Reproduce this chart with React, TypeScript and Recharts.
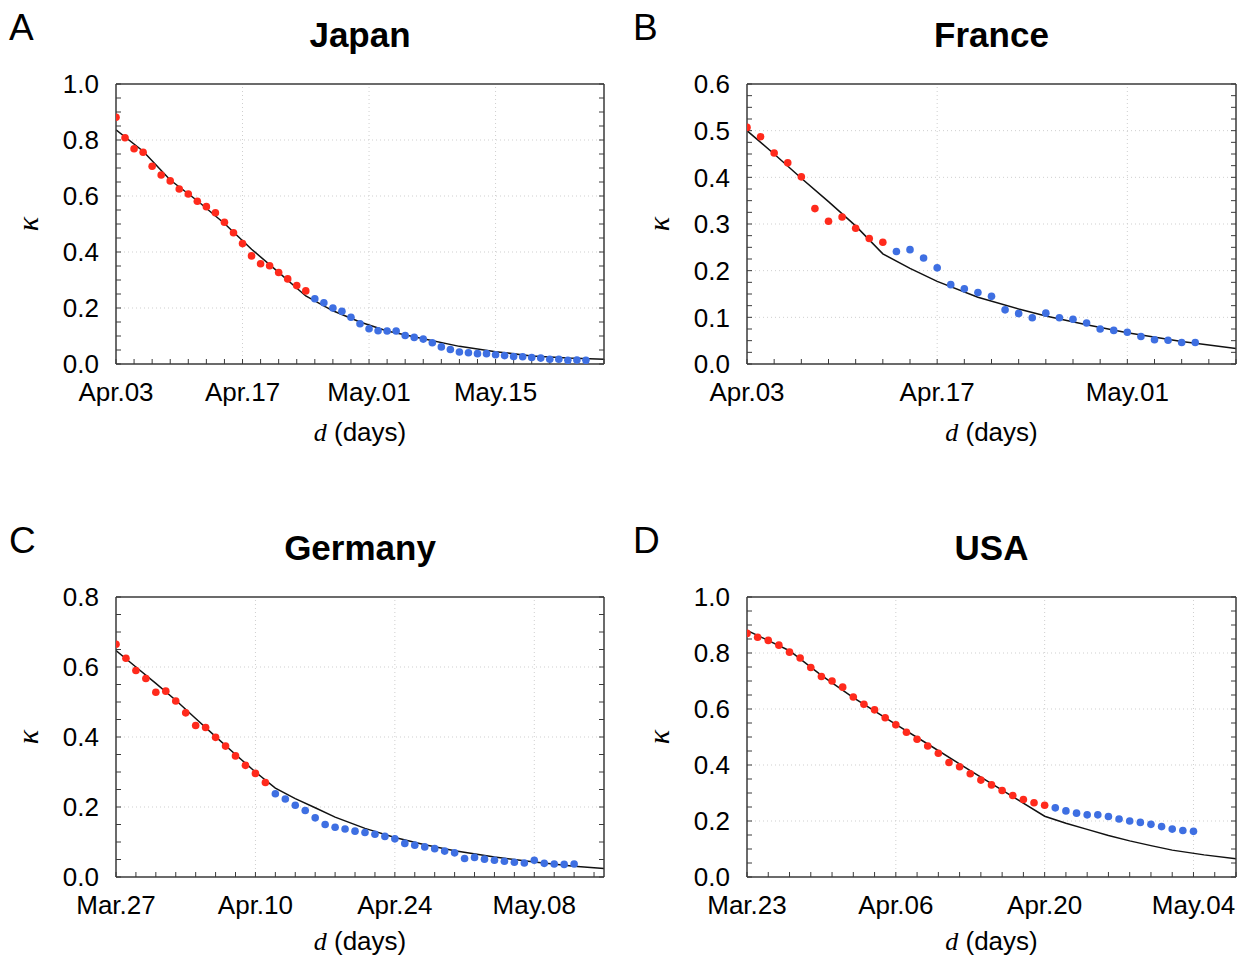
import { ComposedChart, Scatter, Line, XAxis, YAxis, ReferenceLine } from "recharts";

// ---- Japan (days from Apr.03) ----
const japanRed = [0.881, 0.808, 0.769, 0.756, 0.706, 0.675, 0.654, 0.625, 0.607, 0.581, 0.562, 0.54, 0.506, 0.469, 0.43, 0.386, 0.358, 0.351, 0.327, 0.304, 0.28, 0.261];
const japanBlue = [0.233, 0.219, 0.2, 0.188, 0.167, 0.144, 0.126, 0.119, 0.118, 0.118, 0.102, 0.095, 0.089, 0.076, 0.061, 0.052, 0.043, 0.04, 0.037, 0.037, 0.033, 0.03, 0.027, 0.026, 0.023, 0.021, 0.017, 0.017, 0.013, 0.014, 0.013];
const japanFitDays = [0, 3, 6, 9, 12, 15, 18, 21, 24, 27, 30, 34, 38, 42, 46, 50, 54];
const japanFit = [0.836, 0.76, 0.657, 0.583, 0.502, 0.41, 0.327, 0.243, 0.19, 0.15, 0.118, 0.09, 0.063, 0.044, 0.029, 0.021, 0.017];
const japanTickDays = [0, 14, 28, 42];
const japanTickLabels = ["Apr.03", "Apr.17", "May.01", "May.15"];

// ---- France (days from Apr.03) ----
const franceRed = [0.507, 0.487, 0.452, 0.431, 0.401, 0.333, 0.306, 0.315, 0.291, 0.269, 0.261];
const franceBlue = [0.241, 0.245, 0.227, 0.206, 0.17, 0.161, 0.153, 0.145, 0.116, 0.108, 0.099, 0.109, 0.099, 0.096, 0.088, 0.075, 0.072, 0.068, 0.059, 0.052, 0.051, 0.046, 0.046];
const franceFitDays = [0, 2, 4, 6, 8, 10, 12, 14, 17, 20, 22, 25, 28, 32, 36];
const franceFit = [0.5, 0.45, 0.398, 0.348, 0.296, 0.236, 0.205, 0.177, 0.143, 0.118, 0.103, 0.084, 0.067, 0.048, 0.033];
const franceTickDays = [0, 14, 28];
const franceTickLabels = ["Apr.03", "Apr.17", "May.01"];

// ---- Germany (days from Mar.27) ----
const germanyRed = [0.665, 0.625, 0.59, 0.567, 0.528, 0.531, 0.503, 0.469, 0.433, 0.427, 0.399, 0.374, 0.346, 0.319, 0.296, 0.27];
const germanyBlue = [0.238, 0.223, 0.205, 0.19, 0.169, 0.15, 0.142, 0.137, 0.131, 0.127, 0.122, 0.116, 0.109, 0.096, 0.091, 0.086, 0.081, 0.074, 0.069, 0.053, 0.056, 0.051, 0.048, 0.045, 0.042, 0.04, 0.048, 0.039, 0.037, 0.036, 0.037];
const germanyFitDays = [0, 2, 4, 6, 8, 10, 12, 14, 16, 18, 20, 22, 25, 28, 31, 34, 38, 42, 46, 49];
const germanyFit = [0.647, 0.6, 0.553, 0.505, 0.453, 0.401, 0.35, 0.3, 0.254, 0.224, 0.198, 0.171, 0.139, 0.113, 0.092, 0.075, 0.057, 0.043, 0.031, 0.024];
const germanyTickDays = [0, 14, 28, 42];
const germanyTickLabels = ["Mar.27", "Apr.10", "Apr.24", "May.08"];

// ---- USA (days from Mar.23) ----
const usaRed = [0.87, 0.856, 0.845, 0.828, 0.803, 0.782, 0.748, 0.716, 0.7, 0.678, 0.643, 0.617, 0.597, 0.569, 0.544, 0.517, 0.492, 0.468, 0.442, 0.409, 0.394, 0.369, 0.346, 0.329, 0.309, 0.291, 0.277, 0.265, 0.256];
const usaBlue = [0.247, 0.236, 0.228, 0.222, 0.222, 0.216, 0.207, 0.2, 0.195, 0.188, 0.18, 0.171, 0.166, 0.163];
const usaFitDays = [0, 4, 7, 10, 14, 17, 21, 24, 28, 30, 32, 34, 36, 38, 40, 43, 46];
const usaFit = [0.881, 0.808, 0.72, 0.641, 0.545, 0.475, 0.38, 0.31, 0.217, 0.192, 0.17, 0.148, 0.129, 0.112, 0.096, 0.079, 0.065];
const usaTickDays = [0, 14, 28, 42];
const usaTickLabels = ["Mar.23", "Apr.06", "Apr.20", "May.04"];

const RED = "#ff2a1c";
const BLUE = "#3e6fe2";
const FRAME = "#3a3a3a";
const GRID = "#cfcfcf";
const SANS = '"Liberation Sans", Arial, Helvetica, sans-serif';
const SERIF = '"Liberation Serif", "Times New Roman", serif';

type Pt = { day: number; k: number };

const toPoints = (vals: number[], start = 0): Pt[] => vals.map((k, i) => ({ day: start + i, k }));
const zipFit = (days: number[], vals: number[]): Pt[] => days.map((day, i) => ({ day, k: vals[i] }));

function steps(max: number, step: number) {
  const out: number[] = [];
  for (let i = 0; i * step <= max + 1e-9; i++) out.push(+(i * step).toFixed(4));
  return out;
}

interface PanelProps {
  left: number;
  top: number;
  width: number;
  rightMargin: number;
  xMax: number;
  yMax: number;
  yStep: number;
  yMinor: number;
  tickDays: number[];
  tickLabels: string[];
  red: Pt[];
  blue: Pt[];
  fit: Pt[];
}

const dot = (color: string) => (props: any) => <circle cx={props.cx} cy={props.cy} r={3.8} fill={color} />;

function Panel(p: PanelProps) {
  const xMinor = steps(p.xMax, 2);
  const yMinor = steps(p.yMax, p.yMinor);
  const yMajor = steps(p.yMax, p.yStep);
  const isMajorY = (v: number) => yMajor.some((m) => Math.abs(m - v) < 1e-6);
  const xLabel = (v: number) => {
    const i = p.tickDays.indexOf(v);
    return i >= 0 ? p.tickLabels[i] : "";
  };
  const tickFont = { fill: "#000", fontSize: 26, fontFamily: SANS };
  const frame = { stroke: FRAME, strokeWidth: 1.5 };

  return (
    <div style={{ position: "absolute", left: p.left, top: p.top }}>
      <ComposedChart width={p.width} height={440} margin={{ top: 83, right: p.rightMargin - 1, bottom: 0, left: 0 }}>
        <XAxis
          dataKey="day"
          type="number"
          domain={[0, p.xMax]}
          allowDataOverflow
          ticks={xMinor}
          interval={0}
          tickFormatter={xLabel}
          tickSize={-5}
          tickMargin={24}
          height={76}
          axisLine={frame}
          tickLine={{ stroke: FRAME }}
          tick={tickFont}
        />
        <XAxis
          xAxisId="top"
          orientation="top"
          type="number"
          domain={[0, p.xMax]}
          allowDataOverflow
          ticks={xMinor}
          interval={0}
          tickFormatter={() => ""}
          tickSize={-5}
          height={1}
          axisLine={frame}
          tickLine={{ stroke: FRAME }}
        />
        <YAxis
          dataKey="k"
          type="number"
          domain={[0, p.yMax]}
          allowDataOverflow
          ticks={yMinor}
          interval={0}
          tickFormatter={(v: number) => (isMajorY(v) ? v.toFixed(1) : "")}
          tickSize={-5}
          tickMargin={22}
          width={116}
          axisLine={frame}
          tickLine={{ stroke: FRAME }}
          tick={tickFont}
        />
        <YAxis
          yAxisId="right"
          orientation="right"
          type="number"
          domain={[0, p.yMax]}
          allowDataOverflow
          ticks={yMinor}
          interval={0}
          tickFormatter={() => ""}
          tickSize={-5}
          width={1}
          axisLine={frame}
          tickLine={{ stroke: FRAME }}
        />
        {p.tickDays
          .filter((d) => d > 0 && d < p.xMax)
          .map((d) => (
            <ReferenceLine key={"x" + d} x={d} stroke={GRID} strokeDasharray="1 3" />
          ))}
        {yMajor
          .filter((v) => v > 0 && v < p.yMax - 1e-6)
          .map((v) => (
            <ReferenceLine key={"y" + v} y={v} stroke={GRID} strokeDasharray="1 3" />
          ))}
        <Scatter data={p.red} dataKey="k" shape={dot(RED)} isAnimationActive={false} />
        <Scatter data={p.blue} dataKey="k" shape={dot(BLUE)} isAnimationActive={false} />
        <Line data={p.fit} dataKey="k" type="linear" stroke="#111" strokeWidth={1.5} dot={false} activeDot={false} isAnimationActive={false} />
      </ComposedChart>
    </div>
  );
}

const panels: (PanelProps & { letter: string; title: string; letterX: number; xTitleY: number })[] = [
  {
    letter: "A", title: "Japan", letterX: 9, xTitleY: 441, left: 0, top: 0, width: 620, rightMargin: 16,
    xMax: 54, yMax: 1, yStep: 0.2, yMinor: 0.05,
    tickDays: japanTickDays, tickLabels: japanTickLabels,
    red: toPoints(japanRed), blue: toPoints(japanBlue, japanRed.length), fit: zipFit(japanFitDays, japanFit),
  },
  {
    letter: "B", title: "France", letterX: 633, xTitleY: 441, left: 631, top: 0, width: 609, rightMargin: 4,
    xMax: 36, yMax: 0.6, yStep: 0.1, yMinor: 0.025,
    tickDays: franceTickDays, tickLabels: franceTickLabels,
    red: toPoints(franceRed), blue: toPoints(franceBlue, franceRed.length), fit: zipFit(franceFitDays, franceFit),
  },
  {
    letter: "C", title: "Germany", letterX: 9, xTitleY: 437, left: 0, top: 513, width: 620, rightMargin: 16,
    xMax: 49, yMax: 0.8, yStep: 0.2, yMinor: 0.05,
    tickDays: germanyTickDays, tickLabels: germanyTickLabels,
    red: toPoints(germanyRed), blue: toPoints(germanyBlue, germanyRed.length), fit: zipFit(germanyFitDays, germanyFit),
  },
  {
    letter: "D", title: "USA", letterX: 633, xTitleY: 437, left: 631, top: 513, width: 609, rightMargin: 4,
    xMax: 46, yMax: 1, yStep: 0.2, yMinor: 0.05,
    tickDays: usaTickDays, tickLabels: usaTickLabels,
    red: toPoints(usaRed), blue: toPoints(usaBlue, usaRed.length), fit: zipFit(usaFitDays, usaFit),
  },
];

export default function App() {
  return (
    <div style={{ position: "absolute", left: 0, top: 0, width: 1240, height: 958, background: "#fff", overflow: "hidden" }}>
      {panels.map((p) => (
        <Panel key={p.letter} {...p} />
      ))}
      <svg width={1240} height={958} style={{ position: "absolute", left: 0, top: 0, pointerEvents: "none" }}>
        {panels.map((p) => {
          const plotLeft = p.left + 116;
          const plotRight = p.left + p.width - p.rightMargin;
          const cx = (plotLeft + plotRight) / 2;
          return (
            <g key={p.letter} fontFamily={SANS} fill="#000">
              <text x={p.letterX} y={p.top + 40} fontSize={37}>{p.letter}</text>
              <text x={cx} y={p.top + 47} fontSize={35} fontWeight="bold" textAnchor="middle">{p.title}</text>
              <text x={cx} y={p.top + p.xTitleY} fontSize={26} textAnchor="middle">
                <tspan fontFamily={SERIF} fontStyle="italic">d</tspan> (days)
              </text>
              <text transform={`translate(${p.left + 38}, ${p.top + 224}) rotate(-90)`} fontSize={30} fontFamily={SERIF} fontStyle="italic" textAnchor="middle">κ</text>
            </g>
          );
        })}
      </svg>
    </div>
  );
}
